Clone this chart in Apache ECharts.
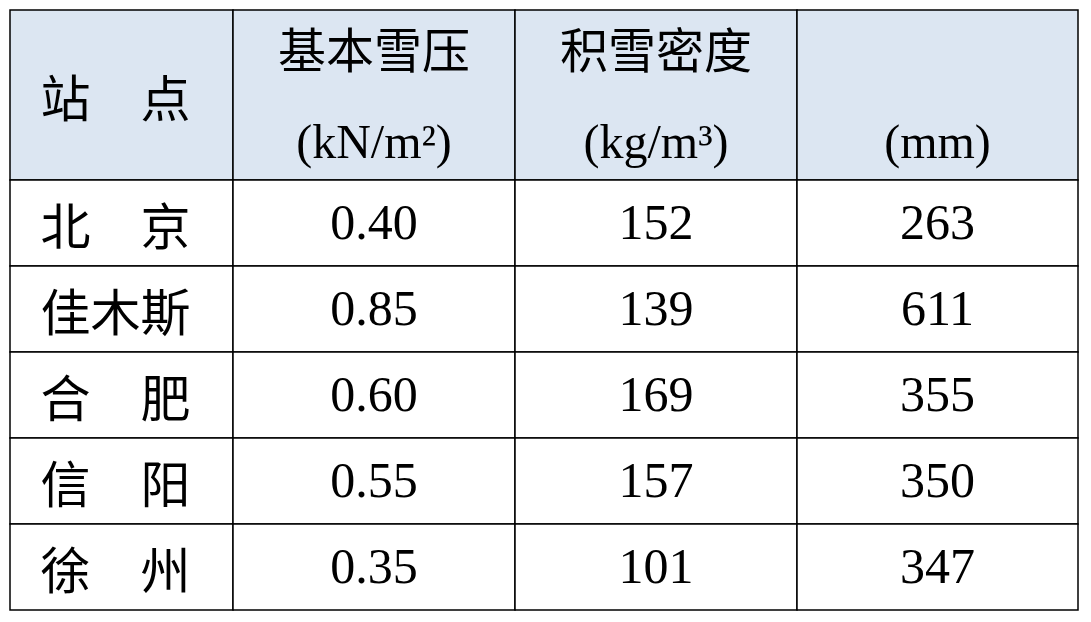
<!DOCTYPE html>
<html><head><meta charset="utf-8">
<script src="https://cdn.jsdelivr.net/npm/echarts@6/dist/echarts.min.js"></script>
<style>html,body{margin:0;padding:0;background:#fff}#c{width:1091px;height:622px}</style>
</head><body><div id="c"></div>
<script>
var headers = ['站　点', '基本雪压\n(kN/m²)', '积雪密度\n(kg/m³)', '\n(mm)'];
var stations = ['北　京', '佳木斯', '合　肥', '信　阳', '徐　州'];
var snowPressure = ['0.40', '0.85', '0.60', '0.55', '0.35'];
var density = ['152', '139', '169', '157', '101'];
var depth = ['263', '611', '355', '350', '347'];

var colEdges = [0, 223, 505, 787, 1068];
var rowEdges = [0, 170, 256, 342, 428, 514, 600];

var cells = [];
headers.forEach(function (h, c) { cells.push([c, 0, h]); });
for (var r = 0; r < stations.length; r++) {
  [stations[r], snowPressure[r], density[r], depth[r]].forEach(function (v, c) { cells.push([c, r + 1, v]); });
}
var chart = echarts.init(document.getElementById('c'));
chart.setOption({
  animation: false,
  grid: { left: 10, top: 10, width: 1068, height: 600 },
  xAxis: { type: 'value', min: 0, max: 1068, show: false },
  yAxis: { type: 'value', min: 0, max: 600, inverse: true, show: false },
  series: [{
    type: 'custom',
    data: cells,
    renderItem: function (params, api) {
      var c = api.value(0), r = api.value(1), t = cells[params.dataIndex][2];
      var p0 = api.coord([colEdges[c], rowEdges[r]]);
      var p1 = api.coord([colEdges[c + 1], rowEdges[r + 1]]);
      var isCJK = (r > 0 && c === 0) || (r === 0 && c === 0);
      var cx = (p0[0] + p1[0]) / 2 + (c === 0 ? -6 : 0);
      return {
        type: 'group',
        children: [{
          type: 'rect',
          shape: { x: p0[0], y: p0[1], width: p1[0] - p0[0], height: p1[1] - p0[1] },
          style: { fill: r === 0 ? '#dce6f2' : '#fff', stroke: '#000', lineWidth: 1.5 }
        }, {
          type: 'text',
          x: cx, y: (p0[1] + p1[1]) / 2 + (r === 0 && c > 0 ? 5 : 3),
          style: {
            text: t, align: 'center', verticalAlign: 'middle',
            fontFamily: isCJK ? '"Noto Sans CJK SC"' : '"Liberation Serif","Noto Sans CJK SC"',
            fontSize: r === 0 && c > 0 ? 48 : (isCJK ? 50 : 50),
            lineHeight: 90, fill: '#000'
          }
        }]
      };
    }
  }]
});
</script></body></html>
